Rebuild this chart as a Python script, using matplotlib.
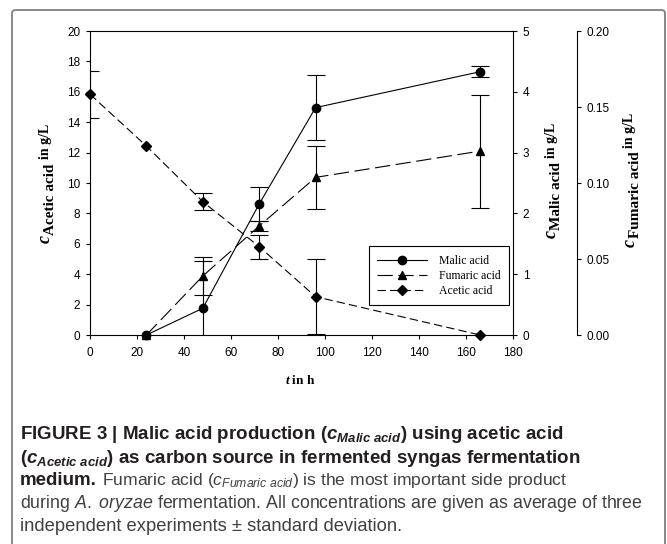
import matplotlib
matplotlib.use("Agg")
import matplotlib.pyplot as plt
from matplotlib.patches import FancyBboxPatch
from matplotlib.ticker import FormatStrFormatter

# time points in h
t_acetic = [0, 24, 48, 72, 96, 166]
t_products = [24, 48, 72, 96, 166]

# concentrations in g/L (mean and standard deviation)
acetic = [15.84, 12.43, 8.77, 5.81, 2.52, 0.0]
acetic_sd = [1.55, 0.0, 0.55, 0.79, 2.45, 0.0]
malic = [0.0, 0.44, 2.155, 3.74, 4.33]
malic_sd = [0.0, 0.785, 0.275, 0.53, 0.093]
fumaric = [0.0, 0.0388, 0.0717, 0.1037, 0.121]
fumaric_sd = [0.0, 0.0127, 0.0033, 0.0205, 0.0372]

x_ticks = list(range(0, 181, 20))
acetic_ticks = list(range(0, 21, 2))
malic_ticks = [0, 1, 2, 3, 4, 5]
fumaric_ticks = [0.0, 0.05, 0.10, 0.15, 0.20]

plt.rcParams["font.family"] = "Liberation Sans"
plt.rcParams["lines.scale_dashes"] = False
plt.rcParams["mathtext.fontset"] = "custom"
plt.rcParams["mathtext.rm"] = "Liberation Sans"
plt.rcParams["mathtext.it"] = "Liberation Sans:italic"
plt.rcParams["mathtext.sf"] = "Liberation Sans:italic:bold"
plt.rcParams["mathtext.bf"] = "Liberation Serif:bold"
plt.rcParams["mathtext.bfit"] = "Liberation Serif:italic:bold"

W, H = 667, 544
fig = plt.figure(figsize=(W / 100, H / 100), dpi=100)
ax = fig.add_axes([90 / W, 1 - 335 / H, 423 / W, 304 / H])
ax2 = ax.twinx()
ax3 = ax.twinx()


def series(axis, t, y, sd, ls, marker, ms, label):
    keep = [i for i, s in enumerate(sd) if s > 0]
    axis.errorbar([t[i] for i in keep], [y[i] for i in keep],
                  yerr=[sd[i] for i in keep], fmt="none", ecolor="black",
                  elinewidth=0.8, capsize=6.5, capthick=0.8)
    line, = axis.plot(t, y, color="black", lw=0.8, ls=ls, marker=marker,
                      ms=ms, clip_on=False, label=label)
    return line


h_ace = series(ax, t_acetic, acetic, acetic_sd, (0, (6, 3)), "D", 5, "Acetic acid")
h_mal = series(ax2, t_products, malic, malic_sd, "-", "o", 6, "Malic acid")
h_fum = series(ax3, t_products, fumaric, fumaric_sd, (0, (11, 4)), "^", 6, "Fumaric acid")

ax.set_xlim(0, 180)
ax.set_ylim(0, 20)
ax2.set_ylim(0, 5)
ax3.set_ylim(0, 0.2)
ax.set_xticks(x_ticks)
ax.set_yticks(acetic_ticks)
ax2.set_yticks(malic_ticks)
ax3.set_yticks(fumaric_ticks)
ax3.yaxis.set_major_formatter(FormatStrFormatter("%.2f"))

for a in (ax, ax2, ax3):
    a.tick_params(direction="out", length=3, width=0.8, labelsize=8.5, pad=4)
    for s in a.spines.values():
        s.set_linewidth(0.8)
ax.tick_params(axis="x", pad=5.5)
ax.spines["right"].set_visible(False)
for a in (ax2, ax3):
    for side in ("left", "top", "bottom"):
        a.spines[side].set_visible(False)
ax3.spines["right"].set_position(("axes", 1 + 64 / 423))

leg = ax3.legend(handles=[h_mal, h_fum, h_ace], loc="lower left",
                 bbox_to_anchor=(0.66, 0.099), borderaxespad=0,
                 prop={"family": "Liberation Serif", "size": 8.5},
                 handlelength=4.2, handletextpad=1.0, labelspacing=0.25,
                 borderpad=0.7, numpoints=1, fancybox=False,
                 edgecolor="black", framealpha=1)
leg.get_frame().set_linewidth(0.8)

renderer = fig.canvas.get_renderer()


def vtext(x_px, y_fig, s, size, style="normal"):
    return fig.text(x_px / W, y_fig, s, rotation=90, rotation_mode="anchor",
                    ha="left", va="baseline", fontsize=size,
                    family="Liberation Serif", weight="bold", style=style)


def vlabel(x_px, y_px, sub, tail="in g/L"):
    # c (italic) + subscript + "in g/L", reading bottom to top
    c = vtext(x_px, 1 - y_px / H, "c", 13, "italic")
    bb = c.get_window_extent(renderer)
    s = vtext(x_px + 4, (bb.y1 + 0.5) / H, sub, 11)
    bb = s.get_window_extent(renderer)
    vtext(x_px - 1.5, (bb.y1 + 4) / H, tail, 10)


vlabel(50, 243, "Acetic acid")
vlabel(556, 238, "Malic acid")
vlabel(635, 247, "Fumaric acid")

fig.text(300 / W, 1 - 380 / H, r"$\mathbfit{t}$ in h", ha="center", va="center",
         fontsize=9.5, family="Liberation Serif", weight="bold")

# caption
bold_c = "#231f20"
body_c = "#404040"
fig.text(20 / W, 1 - 439 / H,
         r"FIGURE 3 | Malic acid production ($\mathsf{c}_{\mathsf{Malic\ acid}}$) using acetic acid",
         fontsize=13.5, weight="bold", color=bold_c)
fig.text(20 / W, 1 - 463 / H,
         r"($\mathsf{c}_{\mathsf{Acetic\ acid}}$) as carbon source in fermented syngas fermentation",
         fontsize=13.5, weight="bold", color=bold_c)
m = fig.text(20 / W, 1 - 485 / H, "medium.", fontsize=13.5, weight="bold", color=bold_c)
mb = m.get_window_extent(renderer)
fig.text((mb.x1 + 5) / W, 1 - 485 / H,
         r"Fumaric acid ($\mathit{c}_{\mathit{Fumaric\ acid}}$) is the most important side product",
         fontsize=12.6, color=body_c)
fig.text(20 / W, 1 - 508 / H,
         r"during $\mathit{A.}$ $\mathit{oryzae}$ fermentation. All concentrations are given as average of three",
         fontsize=12.8, color=body_c)
fig.text(20 / W, 1 - 531 / H,
         "independent experiments \u00b1 standard deviation.",
         fontsize=13.2, color=body_c)

box = FancyBboxPatch((12 / W, -0.05), 653 / W, 1 - 10 / H + 0.05,
                     boxstyle="round,pad=0,rounding_size=0.006",
                     transform=fig.transFigure, fill=False,
                     edgecolor="#808080", lw=1.3)
fig.patches.append(box)

fig.savefig("out.png", dpi=100)
